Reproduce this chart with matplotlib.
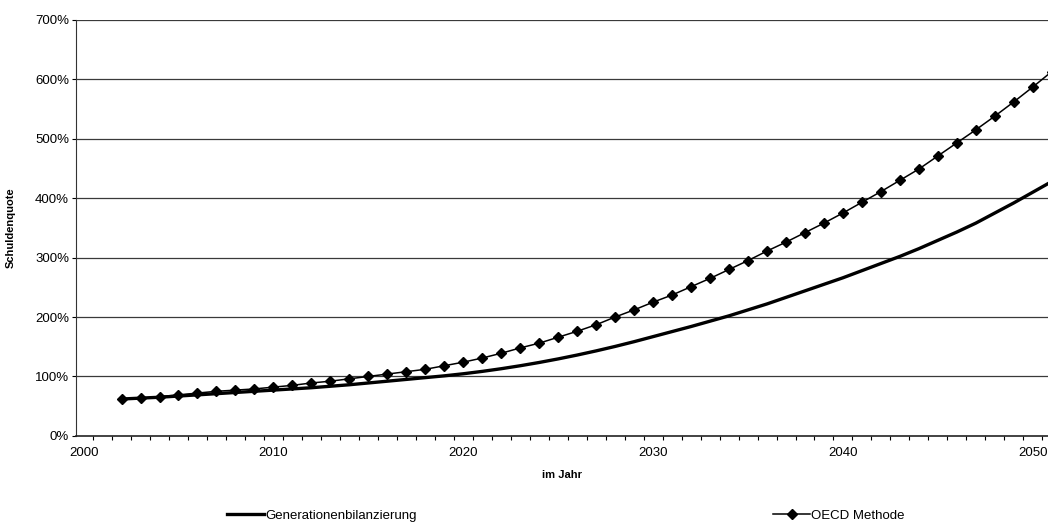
import numpy as np
import matplotlib.pyplot as plt
from matplotlib.ticker import FuncFormatter, MultipleLocator

plt.rcParams['font.family'] = ['Liberation Sans', 'DejaVu Sans']

# years of the projection
years = list(range(2002, 2052))

# Generationenbilanzierung (debt ratio in %)
gen_values = [62, 63.5, 65, 67, 69, 71, 73, 75, 77, 79,
              81, 83.5, 86, 89, 92, 95, 98, 101, 104.5, 108.5,
              113, 118, 123.5, 129.5, 136, 143, 150.5, 158.5, 167, 175.5,
              184, 193, 202, 212, 222, 233, 244, 255, 266, 278,
              290, 302, 315, 329, 343, 358, 375, 392, 410, 428]

# OECD Methode (debt ratio in %)
oecd_values = [62, 63, 66, 69, 72, 75, 77, 79, 82, 85,
               89, 92, 96, 100, 104, 108, 112, 118, 124, 131,
               139, 148, 156, 166, 176, 187, 200, 212, 225, 237,
               251, 265, 280, 295, 311, 326, 342, 358, 375, 393,
               411, 430, 449, 471, 493, 515, 538, 562, 587, 613]

year_ticks = [2000, 2010, 2020, 2030, 2040, 2050]

fig = plt.figure(figsize=(10.48, 5.22), dpi=100)
ax = fig.add_axes([0.0725, 0.165, 0.9275, 0.797])

# grid lines every 100%
for yv in range(100, 800, 100):
    ax.axhline(yv, color="#3a3a3a", lw=0.9, zorder=1)

ax.plot(years, gen_values, color="black", lw=2.4, zorder=3,
        label="Generationenbilanzierung")
ax.plot(years, oecd_values, color="black", lw=1.1, marker="D",
        markersize=5.5, zorder=4, clip_on=False, label="OECD Methode")

ax.set_xlim(1999.6, 2050.8)
ax.set_ylim(0, 700)

ax.set_xticks(year_ticks)
ax.set_xticks([y + 0.5 for y in range(2000, 2051)], minor=True)
ax.tick_params(axis="x", which="major", length=0, labelsize=9.5, pad=8)
ax.tick_params(axis="x", which="minor", length=3, width=0.8, direction="out")
ax.yaxis.set_major_locator(MultipleLocator(100))
ax.yaxis.set_major_formatter(FuncFormatter(lambda v, p: f"{int(v)}%"))
ax.tick_params(axis="y", length=3, width=0.8, labelsize=9.5, pad=2)

for side in ["top", "right"]:
    ax.spines[side].set_visible(False)
ax.spines["left"].set_color("#333333")
ax.spines["bottom"].set_color("#222222")
ax.spines["bottom"].set_linewidth(1.2)

ax.set_xlabel("im Jahr", fontsize=8, fontweight="bold", labelpad=8)
ax.set_ylabel("Schuldenquote", fontsize=8, fontweight="bold", labelpad=14)

fig.legend(loc="lower center", bbox_to_anchor=(0.54, -0.022), ncol=2,
           frameon=False, fontsize=9.5, handlelength=2.8, handletextpad=0.1,
           columnspacing=27)

plt.savefig("out.png", dpi=100)
